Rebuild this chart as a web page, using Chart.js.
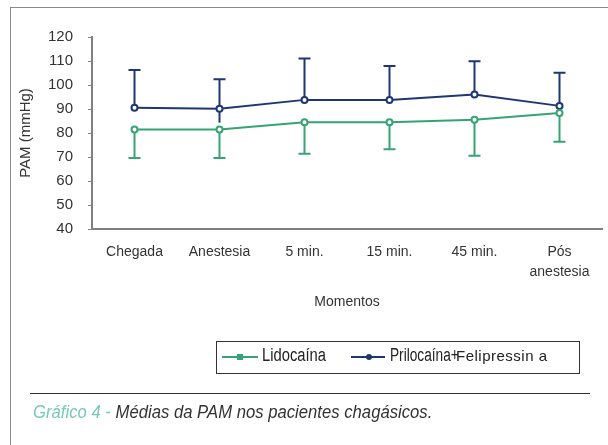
<!DOCTYPE html>
<html>
<head>
<meta charset="utf-8">
<script src="https://cdn.jsdelivr.net/npm/chart.js@4.4.1/dist/chart.umd.min.js"></script>
<style>
  html, body { margin: 0; padding: 0; background: #fff; }
  #wrap { position: relative; width: 608px; height: 445px; overflow: hidden; }
  #c { position: absolute; left: 0; top: 0; }
  .frame-top { position: absolute; left: 11px; top: 7px; width: 600px; height: 0; border-top: 1.5px solid #8a8a8a; }
  .frame-left { position: absolute; left: 10px; top: 7px; width: 0; height: 440px; border-left: 1.5px solid #8a8a8a; }
  #legend { position: absolute; left: 216px; top: 341px; width: 362px; height: 31px; border: 1.5px solid #333; box-sizing: content-box; }
  .swatch { position: absolute; top: 356px; height: 2px; }
  .swatch i { position: absolute; top: -2px; width: 6px; height: 6px; }
  .lab { position: absolute; top: 344px; line-height: 22px; white-space: nowrap; transform-origin: 0 50%; }
  .narrow { font-family: "Liberation Sans", Arial, sans-serif; font-size: 18px; color: #222; transform: scaleX(0.82); }
  .small { font-family: "Liberation Sans", Arial, sans-serif; font-size: 15px; letter-spacing: 0.5px; color: #222; }
  #rule { position: absolute; left: 30px; top: 393px; width: 560px; height: 0; border-top: 1.5px solid #333; }
  #caption { position: absolute; left: 33px; top: 401px; font-family: "Liberation Sans", Arial, sans-serif; font-style: italic; font-size: 19px; color: #333; white-space: nowrap; transform: scaleX(0.878); transform-origin: 0 50%; }
  #caption b { color: #78c9b6; font-weight: normal; }
</style>
</head>
<body>
<div id="wrap">
  <div class="frame-top"></div>
  <div class="frame-left"></div>
  <canvas id="c" width="608" height="445"></canvas>
  <div id="legend"></div>
  <span class="swatch" style="left:222px;width:36px;background:#36a374"><i style="left:15px;background:#36a374"></i></span>
  <span class="lab narrow" style="left:262px">Lidocaína</span>
  <span class="swatch" style="left:351px;width:34px;background:#1e3673"><i style="left:15px;background:#1e3673;border-radius:50%"></i></span>
  <span class="lab narrow" style="left:390px;transform:scaleX(0.76)">Prilocaína+</span>
  <span class="lab small" style="left:456px;top:345px">Felipressin a</span>
  <div id="rule"></div>
  <div id="caption"><b>Gráfico 4 -</b> Médias da PAM nos pacientes chagásicos.</div>
</div>
<script>
// Moments of measurement
const momentos = ["Chegada", "Anestesia", "5 min.", "15 min.", "45 min.", ["Pós", "anestesia"]];

// Mean arterial pressure (mmHg) per group
const lidocainaMedia = [81.5, 81.5, 84.5, 84.5, 85.5, 88.3];
const lidocainaInferior = [69.6, 69.6, 71.4, 73.2, 70.5, 76.4];

const prilocainaMedia = [90.5, 90.1, 93.8, 93.8, 96.0, 91.3];
const prilocainaSuperior = [106.2, 102.4, 111.0, 107.9, 109.9, 105.1];
const prilocainaInferior = [null, 84.3, null, null, null, null];

// Y axis range
const yMin = 40, yMax = 120, yStep = 10;

const GREEN = "#36a374";
const NAVY = "#1e3673";

// Draws one-sided error bars (a stem from the mean plus a cap)
const errorBars = {
  id: "errorBars",
  beforeDatasetsDraw(chart) {
    const { ctx, scales: { x, y } } = chart;
    const cap = 6;
    const stem = (i, from, to, color, withCap) => {
      if (to === null || to === undefined) return;
      const px = x.getPixelForValue(i);
      const y0 = y.getPixelForValue(from);
      const y1 = y.getPixelForValue(to);
      ctx.beginPath();
      ctx.moveTo(px, y0);
      ctx.lineTo(px, y1);
      if (withCap) {
        ctx.moveTo(px - cap, y1);
        ctx.lineTo(px + cap, y1);
      }
      ctx.strokeStyle = color;
      ctx.lineWidth = 2;
      ctx.stroke();
    };
    ctx.save();
    momentos.forEach((_, i) => {
      stem(i, lidocainaMedia[i], lidocainaInferior[i], GREEN, true);
      stem(i, prilocainaMedia[i], prilocainaSuperior[i], NAVY, true);
      stem(i, prilocainaMedia[i], prilocainaInferior[i], NAVY, false);
    });
    ctx.restore();
  }
};

const family = "'Liberation Sans', Arial, sans-serif";

new Chart(document.getElementById("c"), {
  type: "line",
  data: {
    labels: momentos,
    datasets: [
      {
        label: "Lidocaína",
        data: lidocainaMedia,
        borderColor: GREEN,
        backgroundColor: "#fff",
        borderWidth: 2,
        pointRadius: 3,
        pointBorderWidth: 2,
        pointBackgroundColor: "#fff",
        pointBorderColor: GREEN,
        tension: 0
      },
      {
        label: "Prilocaína+Felipressina",
        data: prilocainaMedia,
        borderColor: NAVY,
        backgroundColor: "#fff",
        borderWidth: 2,
        pointRadius: 3,
        pointBorderWidth: 2,
        pointBackgroundColor: "#fff",
        pointBorderColor: NAVY,
        tension: 0
      }
    ]
  },
  options: {
    responsive: false,
    animation: false,
    events: [],
    layout: { padding: { top: 37, right: 6, left: 0, bottom: 126 } },
    plugins: { legend: { display: false }, tooltip: { enabled: false } },
    scales: {
      x: {
        type: "category",
        offset: true,
        grid: { display: true, drawOnChartArea: false, drawTicks: false },
        border: { display: true, color: "#808080", width: 2 },
        ticks: { color: "#333", font: { family, size: 14, lineHeight: 1.45 }, padding: 13, maxRotation: 0, autoSkip: false },
        title: { display: true, text: "Momentos", color: "#333", font: { family, size: 14 }, padding: { top: 0, bottom: 8 } },
        afterFit(scale) { scale.height = 90; }
      },
      y: {
        min: yMin,
        max: yMax,
        grid: { display: true, drawOnChartArea: false, drawTicks: true, tickLength: 4, color: "#808080" },
        border: { display: true, color: "#808080", width: 2 },
        ticks: { stepSize: yStep, color: "#333", font: { family, size: 15 }, padding: 15 },
        title: { display: true, text: "PAM (mmHg)", color: "#333", font: { family, size: 15 }, padding: { top: 17, bottom: 0 } },
        afterFit(scale) { scale.width = 92; }
      }
    }
  },
  plugins: [errorBars]
});
</script>
</body>
</html>
